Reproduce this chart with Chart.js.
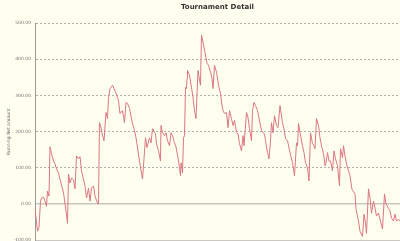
<!DOCTYPE html>
<html>
<head>
<meta charset="utf-8">
<script src="https://cdn.jsdelivr.net/npm/chart.js@4/dist/chart.umd.min.js"></script>
<style>
    html, body { margin: 0; padding: 0; background: #fffff0; overflow: hidden; }
    #wrap { width: 400px; height: 247px; position: relative; }
</style>
</head>
<body>
<div id="wrap"><canvas id="tournament-chart"></canvas></div>
<script>
// Numéro de main (axe x) et gain net cumulé
const hands = [0, 5, 8, 11, 13, 17, 20, 23, 25, 28, 30, 33, 37, 40, 43, 47, 50, 57, 62, 65,
    67, 70, 73, 77, 80, 83, 87, 90, 93, 100, 103, 107, 110, 113, 117, 120, 125, 127, 129, 132,
    135, 138, 142, 145, 147, 150, 155, 158, 162, 167, 170, 175, 179, 182, 185, 189, 195, 199, 202, 209,
    215, 221, 224, 229, 232, 235, 241, 243, 247, 251, 252, 255, 259, 262, 265, 269, 272, 275, 279, 282,
    286, 289, 291, 292, 294, 295, 297, 299, 301, 303, 304, 305, 309, 313, 316, 319, 322, 326, 329, 331,
    333, 336, 339, 342, 344, 347, 351, 354, 356, 359, 363, 367, 371, 374, 376, 379, 383, 386, 389, 393,
    396, 399, 403, 406, 409, 413, 416, 418, 423, 426, 429, 433, 435, 438, 441, 445, 447, 453, 456, 459,
    461, 465, 468, 471, 473, 476, 479, 483, 486, 490, 495, 498, 501, 505, 510, 515, 519, 523, 525, 527,
    530, 535, 538, 541, 545, 548, 551, 555, 558, 560, 563, 567, 570, 573, 577, 580, 582, 585, 588, 591,
    595, 598, 601, 605, 609, 611, 615, 617, 620, 623, 630, 634, 640, 642, 647, 650, 655, 658, 661, 663,
    667, 670, 673, 677, 680, 683, 687, 690, 695, 699, 702, 707, 710, 713, 717, 720, 723, 727, 730];

const netAmount = [-14, -75, -64, 8, 17, 19, 8, -6, 36, 22, 158, 139, 119, 111, 97, 86, 69, 31, -19, -53,
    83, 58, 72, 67, 42, 133, 125, 131, 92, 50, 17, 44, 8, 44, 50, 22, 3, 0, 225, 211,
    189, 175, 253, 236, 294, 319, 328, 319, 306, 286, 250, 258, 225, 281, 278, 264, 222, 203, 183, 119,
    69, 183, 156, 183, 169, 208, 194, 167, 147, 119, 217, 197, 189, 197, 175, 161, 197, 189, 169, 158,
    128, 100, 78, 114, 100, 86, 183, 189, 322, 319, 347, 369, 356, 322, 294, 258, 236, 369, 342, 328,
    467, 447, 425, 403, 389, 383, 364, 347, 319, 383, 364, 328, 306, 272, 258, 250, 253, 211, 258, 236,
    217, 231, 197, 194, 167, 147, 189, 161, 253, 239, 208, 175, 258, 281, 272, 258, 244, 203, 197, 194,
    175, 142, 125, 175, 225, 197, 244, 217, 211, 272, 225, 208, 181, 175, 142, 114, 78, 169, 161, 222,
    197, 161, 142, 114, 100, 64, 197, 167, 161, 153, 236, 217, 183, 161, 139, 106, 114, 142, 119, 119,
    92, 147, 125, 106, 50, 153, 128, 161, 133, 111, 78, 40, 28, -14, -47, -75, -89, -28, -53, -81,
    42, 17, -25, 8, -11, -33, -25, -42, -69, 28, 0, -11, -19, -39, -47, -28, -47, -42, -47];

const yTicks = [-100, 0, 100, 200, 300, 400, 500];

const points = hands.map(function(h, i) {
    return { x: h, y: netAmount[i] };
});

const ctx = document.getElementById('tournament-chart').getContext('2d');

new Chart(ctx, {
    type: 'line',
    data: {
        datasets: [{
            label: 'Running Net amount',
            data: points,
            borderColor: 'rgb(220, 118, 128)',
            borderWidth: 1,
            pointRadius: 0,
            tension: 0,
            fill: false
        }]
    },
    options: {
        responsive: true,
        maintainAspectRatio: false,
        animation: false,
        layout: {
            padding: { left: 0, right: 0, top: 0, bottom: 0 }
        },
        plugins: {
            legend: { display: false },
            tooltip: { enabled: false },
            title: {
                display: true,
                text: 'Tournament Detail',
                fullSize: false,
                color: '#333',
                font: { family: 'DejaVu Sans', size: 7, weight: 'bold' },
                padding: { top: 3, bottom: 11.6 }
            }
        },
        scales: {
            x: {
                type: 'linear',
                display: false,
                min: 0,
                max: 730
            },
            y: {
                min: -100,
                max: 500,
                afterBuildTicks: function(scale) {
                    scale.ticks = yTicks.map(function(v) { return { value: v }; });
                },
                afterFit: function(scale) {
                    scale.width = 35;
                },
                ticks: {
                    color: '#777',
                    font: { family: 'DejaVu Sans', size: 4.5 },
                    padding: 4,
                    callback: function(value) {
                        return value.toFixed(2);
                    }
                },
                grid: {
                    drawTicks: false,
                    lineWidth: function(c) {
                        return c.tick && c.tick.value === 0 ? 1.5 : 1;
                    },
                    color: function(c) {
                        if (c.tick && (c.tick.value === 0 || c.tick.value === -100)) return '#c8c8c0';
                        return '#b0b0b0';
                    }
                },
                border: {
                    display: true,
                    color: '#999',
                    width: 1,
                    dash: function(c) {
                        if (c.tick && (c.tick.value === 0 || c.tick.value === -100)) return [];
                        return [2, 2];
                    }
                },
                title: {
                    display: true,
                    text: 'Running Net amount',
                    color: '#666',
                    font: { family: 'DejaVu Sans', size: 4.5 },
                    padding: { top: 6, bottom: 0 }
                }
            }
        }
    }
});
</script>
</body>
</html>
